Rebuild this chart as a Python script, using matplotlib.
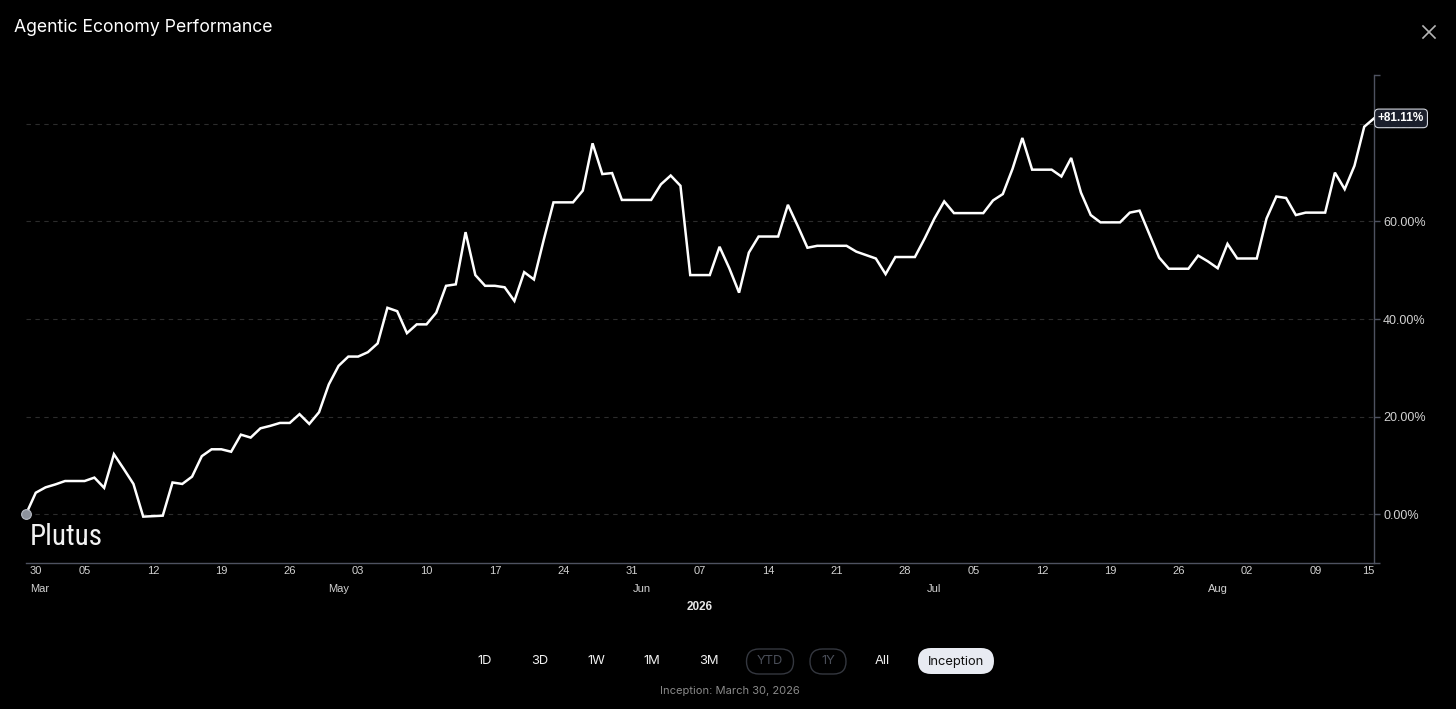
import numpy as np
import pandas as pd
import matplotlib
matplotlib.use("Agg")
import matplotlib.pyplot as plt
import matplotlib.transforms as mtransforms
from matplotlib.patches import FancyBboxPatch
from matplotlib import font_manager

# daily performance since inception, in percent
values = [
    0.0, 4.4, 5.5, 6.1, 6.8, 6.8, 6.8, 7.5, 5.4, 12.3,
    9.3, 6.2, -0.5, -0.4, -0.3, 6.5, 6.2, 7.7, 11.9, 13.3,
    13.3, 12.8, 16.3, 15.7, 17.6, 18.1, 18.7, 18.7, 20.5, 18.5,
    20.9, 26.6, 30.4, 32.3, 32.3, 33.2, 35.0, 42.3, 41.6, 37.1,
    38.9, 38.9, 41.3, 46.8, 47.1, 57.8, 49.0, 46.8, 46.8, 46.5,
    43.7, 49.6, 48.1, 56.2, 63.9, 63.9, 63.9, 66.3, 76.0, 69.7,
    69.9, 64.4, 64.4, 64.4, 64.4, 67.6, 69.4, 67.3, 49.0, 49.0,
    49.0, 54.8, 50.4, 45.4, 53.6, 56.9, 56.9, 56.9, 63.4, 59.1,
    54.6, 55.0, 55.0, 55.0, 55.0, 53.8, 53.1, 52.4, 49.2, 52.7,
    52.7, 52.7, 56.5, 60.6, 64.1, 61.7, 61.7, 61.7, 61.7, 64.3,
    65.6, 70.8, 77.1, 70.6, 70.6, 70.6, 69.2, 73.0, 65.9, 61.3,
    59.8, 59.8, 59.8, 61.8, 62.2, 57.4, 52.6, 50.3, 50.3, 50.3,
    53.0, 51.8, 50.4, 55.4, 52.4, 52.4, 52.4, 60.6, 65.1, 64.8,
    61.3, 61.8, 61.8, 61.8, 70.0, 66.6, 71.4, 79.4, 81.11,
]
start_date = "2026-03-30"
dates = pd.date_range(start_date, periods=len(values), freq="D")

y_ticks = [-10, 0, 20, 40, 60, 80, 90]
y_labels = ["", "0.00%", "20.00%", "40.00%", "60.00%", "80.00%", ""]

month_labels = ["Mar", "May", "Jun", "Jul", "Aug"]
month_dates = pd.to_datetime(["2026-03-30", "2026-05-01", "2026-06-01", "2026-07-01", "2026-07-30"])

buttons = ["1D", "3D", "1W", "1M", "3M", "YTD", "1Y", "All", "Inception"]
button_x = [485, 540, 596, 652, 709, 770, 828, 882, 956]
disabled = ["YTD", "1Y"]
active = "Inception"

title = "Agentic Economy Performance"
footer = "Inception: March 30, 2026"

BG = "#000000"
AXIS = "#4e5260"
GRID = "#2c2c2c"
LABEL = "#d2d2d2"
AX_FONT = ["Liberation Sans", "DejaVu Sans"]
UI_FONT = ["Inter", "DejaVu Sans"]


def narrow_font():
    # the watermark is a condensed grotesk, take whatever narrow face is around
    fonts = font_manager.fontManager.ttflist
    for want in ("Liberation Sans Narrow", "Roboto Condensed", "Open Sans Condensed"):
        for f in fonts:
            if f.name == want and f.weight in (400, "normal", "regular") and f.style == "normal":
                return font_manager.FontProperties(fname=f.fname)
    for f in fonts:
        if f.stretch in ("condensed", "semi-condensed") and f.style == "normal" and "Mono" not in f.name \
                and "Serif" not in f.name and f.weight in (400, "normal", "regular"):
            return font_manager.FontProperties(fname=f.fname)
    return None


W, H = 1456, 709
fig = plt.figure(figsize=(W / 100, H / 100), dpi=100, facecolor=BG)

# main chart, placed in pixels
L, R, T, B = 26, 1374, 75, 563
ax = fig.add_axes([L / W, (H - B) / H, (R - L) / W, (B - T) / H])
ax.set_facecolor(BG)

ax.plot(dates, values, color="white", lw=1.8, solid_joinstyle="miter", zorder=3)
ax.plot(dates[:1], values[:1], "o", ms=7, mfc="#8d929c", mec="#b9bdc6", mew=0.8, zorder=4, clip_on=False)

ax.set_xlim(dates[0], dates[-1])
ax.set_ylim(-10, 90)

for s in ["top", "left"]:
    ax.spines[s].set_visible(False)
for s in ["bottom", "right"]:
    ax.spines[s].set_color(AXIS)
    ax.spines[s].set_linewidth(1.0)

ax.yaxis.tick_right()
ax.set_yticks(y_ticks)
ax.set_yticklabels(y_labels)
ax.tick_params(axis="y", length=4, width=1.0, color=AXIS, pad=2.5, labelsize=9, labelcolor=LABEL)
for lab in ax.get_yticklabels():
    lab.set_family(AX_FONT)
for v in y_ticks[1:-1]:
    ax.axhline(v, color=GRID, lw=0.8, ls=(0, (4, 4)), zorder=1)

# weekly day ticks (sundays) plus first and last day
sundays = [d for d in dates if d.weekday() == 6]
xt = [dates[0]] + sundays + [dates[-1]]
ax.set_xticks(xt)
ax.set_xticklabels([d.strftime("%d") for d in xt])
ax.tick_params(axis="x", length=0, pad=2, labelsize=8, labelcolor=LABEL)
xl = ax.get_xticklabels()
for lab in xl:
    lab.set_family(AX_FONT)
xl[0].set_ha("left")
xl[-1].set_ha("right")
shift = mtransforms.ScaledTranslation(4 / 100, 0, fig.dpi_scale_trans)
xl[0].set_transform(xl[0].get_transform() + shift)

# month row and year
trans = mtransforms.blended_transform_factory(ax.transData, ax.transAxes)
for i, (m, d) in enumerate(zip(month_labels, month_dates)):
    off = mtransforms.ScaledTranslation((4 if i == 0 else 0) / 100, -26 / 100, fig.dpi_scale_trans)
    ax.text(d, 0, m, transform=trans + off, ha="left" if i == 0 else "center", va="center",
            fontsize=8, color=LABEL, family=AX_FONT)
ax.text(0.5, -(607 - B) / (B - T), "2026", transform=ax.transAxes, ha="center", va="center",
        fontsize=8.5, fontweight="bold", color="#e6e6e6", family=AX_FONT)

# last value badge on the right axis
ax.annotate("+%.2f%%" % values[-1], xy=(1, values[-1]), xycoords=("axes fraction", "data"),
            xytext=(2.8, 0), textcoords="offset points", ha="left", va="center",
            fontsize=8.5, fontweight="bold", color="white", family=AX_FONT,
            bbox=dict(boxstyle="round,pad=0.28,rounding_size=0.35", fc="#1b1f2c", ec="#d2d5dd", lw=0.8),
            zorder=10, annotation_clip=False)

# overlay in pixel coordinates for the ui chrome
ov = fig.add_axes([0, 0, 1, 1], zorder=5)
ov.set_xlim(0, W)
ov.set_ylim(H, 0)
ov.axis("off")

ov.text(14, 27, title, ha="left", va="center", fontsize=12.7, color="white", family=UI_FONT)
ov.plot([1423, 1435], [26, 38], color="#b5b5b5", lw=1.2)
ov.plot([1423, 1435], [38, 26], color="#b5b5b5", lw=1.2)

fp = narrow_font()
if fp is not None:
    fp.set_size(21)
    ov.text(30, 537, "Plutus", ha="left", va="center", color="#f2f2f2", fontproperties=fp)
else:
    ov.text(30, 537, "Plutus", ha="left", va="center", fontsize=17, color="#f2f2f2",
            family=["Liberation Sans", "DejaVu Sans"])

for name, x in zip(buttons, button_x):
    color = "#f0f0f0"
    if name in disabled:
        w = 47 if name == "YTD" else 36
        ov.add_patch(FancyBboxPatch((x - w / 2, 649), w, 25, boxstyle="round,pad=0,rounding_size=12.5",
                                    fc="none", ec="#34373f", lw=1.0))
        color = "#4a4e58"
    elif name == active:
        ov.add_patch(FancyBboxPatch((x - 38, 648), 76, 26, boxstyle="round,pad=0,rounding_size=13",
                                    fc="#e8ebf2", ec="none"))
        color = "#111111"
    ov.text(x, 661.5, name, ha="center", va="center", fontsize=9.3, color=color, family=UI_FONT)

ov.text(730, 691, footer, ha="center", va="center", fontsize=8, color="#8a8a8a", family=UI_FONT)

fig.savefig("out.png", dpi=100, facecolor=BG)
